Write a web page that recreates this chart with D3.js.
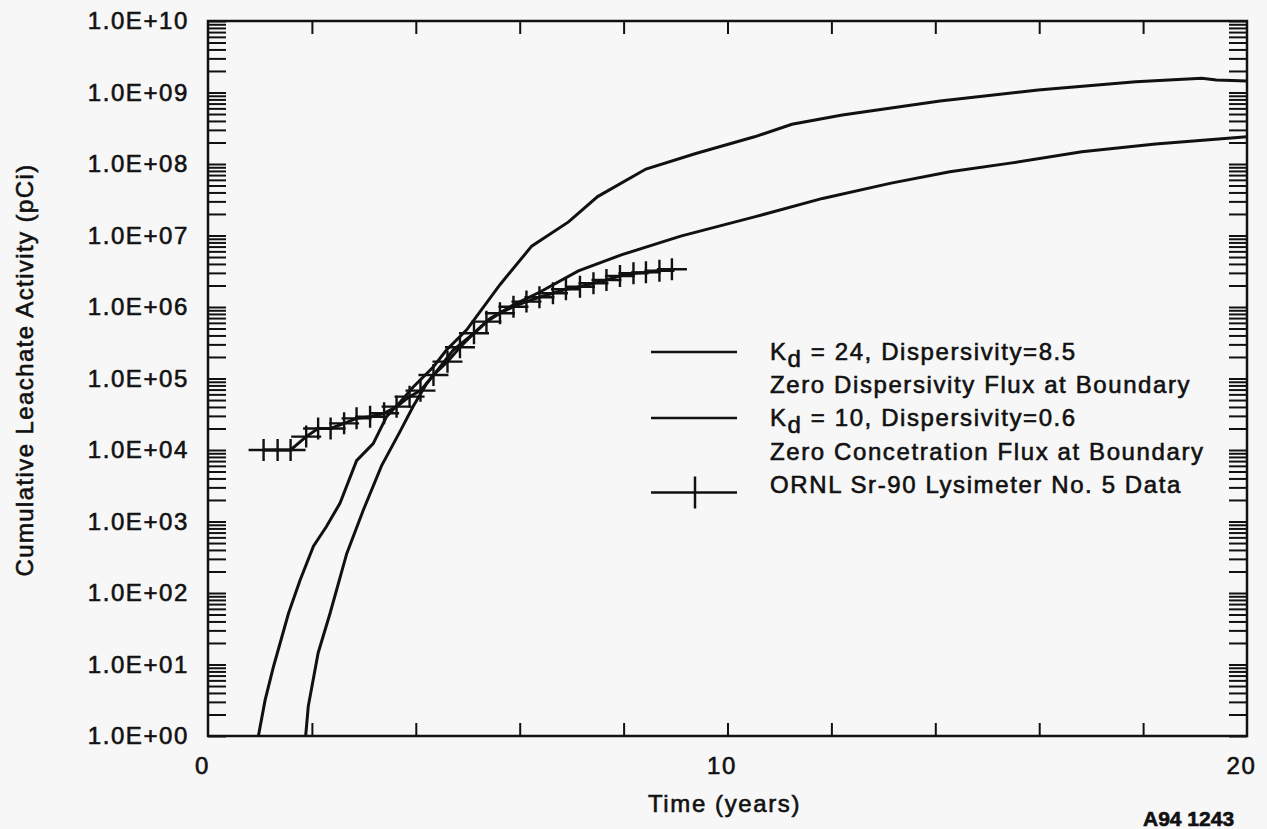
<!DOCTYPE html>
<html lang="en">
<head>
    <meta charset="UTF-8">
    <title>Cumulative Leachate Activity</title>
    <script src="https://d3js.org/d3.v7.min.js"></script>
    <style>
        body { margin: 0; background: #f7f7f7; }
        svg { display: block; }
        text {
            font-family: "Liberation Sans", Arial, Helvetica, sans-serif;
            font-size: 24px;
            letter-spacing: 1.6px;
            fill: #111;
            stroke: #111;
            stroke-width: 0.6px;
        }
        .frame, .tick line, .curve, .marker, .legend-line {
            stroke: #111;
            fill: none;
        }
        .domain { display: none; }
    </style>
</head>
<body>
    <svg width="1267" height="829"></svg>

    <script>
        const width = 1267, height = 829;
        const plotLeft = 208, plotRight = 1247, plotTop = 21, plotBottom = 736;

        // Kd = 24, Dispersivity = 8.5 (years / pCi)
        const timeA = [0.97, 1.10, 1.26, 1.55, 1.77, 2.03, 2.28, 2.54, 2.86, 3.18, 3.44, 3.70, 3.95,
                       4.34, 4.59, 4.98, 5.62, 6.23, 6.94, 7.50, 8.43, 9.39, 10.52, 11.24, 12.21,
                       14.09, 15.98, 17.86, 19.13, 19.41, 20.0];
        const activityA = [1, 3.2, 9.3, 52, 150, 450, 850, 1.8e3, 7.1e3, 1.23e4, 2.95e4, 4.7e4, 7.6e4,
                           1.46e5, 2.5e5, 4.8e5, 2.05e6, 7.1e6, 1.55e7, 3.5e7, 8.5e7, 1.4e8, 2.4e8, 3.6e8, 4.85e8,
                           7.6e8, 1.08e9, 1.41e9, 1.58e9, 1.5e9, 1.45e9];

        // Kd = 10, Dispersivity = 0.6
        const timeB = [1.88, 1.93, 2.12, 2.35, 2.67, 2.99, 3.34, 3.69, 3.95, 4.21, 4.47, 4.72, 5.11,
                       5.43, 5.88, 6.39, 7.13, 7.97, 9.10, 10.52, 11.83, 13.15, 14.28, 15.41, 16.82,
                       18.24, 20.0];
        const activityB = [1, 2.6, 14.5, 52, 355, 1.45e3, 6.0e3, 1.78e4, 4.1e4, 8.5e4, 1.46e5, 2.5e5, 4.25e5,
                           6.9e5, 1.07e6, 1.62e6, 3.2e6, 5.4e6, 9.8e6, 1.82e7, 3.3e7, 5.4e7, 7.8e7, 1.02e8, 1.48e8,
                           1.9e8, 2.4e8];

        // ORNL Sr-90 Lysimeter No. 5 measurements
        const timeData = [1.07, 1.34, 1.59, 1.89, 2.12, 2.36, 2.62, 2.86, 3.12, 3.39, 3.63, 3.88,
                          4.09, 4.34, 4.61, 4.85, 5.12, 5.36, 5.62, 5.88, 6.13, 6.38, 6.64, 6.89,
                          7.16, 7.42, 7.67, 7.93, 8.19, 8.43, 8.69, 8.93];
        const activityData = [1.0e4, 1.0e4, 1.0e4, 1.54e4, 2.0e4, 2.0e4, 2.36e4, 2.77e4, 2.92e4, 3.26e4, 4.04e4, 5.57e4,
                              6.76e4, 1.12e5, 1.72e5, 2.73e5, 4.29e5, 6.24e5, 8.17e5, 1.01e6, 1.19e6, 1.37e6, 1.56e6, 1.77e6,
                              1.92e6, 2.15e6, 2.39e6, 2.72e6, 2.96e6, 3.05e6, 3.22e6, 3.37e6];

        const xLabelTicks = [0, 10, 20];
        const xMarkTicks = [2, 4, 6, 8, 10, 12, 14, 16, 18];
        const decades = d3.range(0, 11).map(p => Math.pow(10, p));

        const legendRows = [
            ["K", "d", " = 24, Dispersivity=8.5"],
            ["Zero Dispersivity Flux at Boundary"],
            ["K", "d", " = 10, Dispersivity=0.6"],
            ["Zero Concetration Flux at Boundary"],
            ["ORNL Sr-90 Lysimeter No. 5 Data"]
        ];

        const svg = d3.select("svg");

        const x = d3.scaleLinear().domain([0, 20]).range([plotLeft, plotRight]);
        const y = d3.scaleLog().domain([1, 1e10]).range([plotBottom, plotTop]);

        // all log ticks 1..9 per decade
        const minor = [];
        decades.slice(0, 10).forEach(d => d3.range(1, 10).forEach(k => minor.push(d * k)));
        minor.push(1e10);

        svg.append("defs").append("clipPath").attr("id", "plot")
            .append("rect").attr("x", plotLeft).attr("y", plotTop)
            .attr("width", plotRight - plotLeft).attr("height", plotBottom - plotTop);

        // tick marks, pointing inward
        svg.append("g").attr("transform", `translate(${plotLeft},0)`)
            .call(d3.axisLeft(y).tickValues(minor).tickSize(-18).tickFormat(""))
            .selectAll("line").attr("stroke-width", 2);
        svg.append("g").attr("transform", `translate(${plotRight},0)`)
            .call(d3.axisRight(y).tickValues(minor).tickSize(-18).tickFormat(""))
            .selectAll("line").attr("stroke-width", 2);
        svg.append("g").attr("transform", `translate(0,${plotBottom})`)
            .call(d3.axisBottom(x).tickValues(xMarkTicks).tickSize(-13).tickFormat(""))
            .selectAll("line").attr("stroke-width", 2);
        svg.append("g").attr("transform", `translate(0,${plotTop})`)
            .call(d3.axisTop(x).tickValues(xMarkTicks).tickSize(-13).tickFormat(""))
            .selectAll("line").attr("stroke-width", 2);

        // tick labels
        const yLab = svg.append("g").attr("transform", `translate(${plotLeft},0)`)
            .call(d3.axisLeft(y).tickValues(decades).tickSize(0).tickPadding(19)
                .tickFormat(d => "1.0E+" + String(Math.round(Math.log10(d))).padStart(2, "0")));
        yLab.attr("font-size", null).attr("font-family", null);

        const xLab = svg.append("g").attr("transform", `translate(0,${plotBottom})`)
            .call(d3.axisBottom(x).tickValues(xLabelTicks).tickSize(0).tickPadding(21));
        xLab.attr("font-size", null).attr("font-family", null);
        xLab.selectAll("text").attr("dx", -6);

        svg.append("rect").attr("class", "frame")
            .attr("x", plotLeft).attr("y", plotTop)
            .attr("width", plotRight - plotLeft).attr("height", plotBottom - plotTop)
            .attr("stroke-width", 2.5);

        // curves
        const line = d3.line().x(d => x(d[0])).y(d => y(d[1]));
        const plot = svg.append("g").attr("clip-path", "url(#plot)");

        plot.append("path").attr("class", "curve")
            .attr("d", line(d3.zip(timeA, activityA)))
            .attr("stroke-width", 3);
        plot.append("path").attr("class", "curve")
            .attr("d", line(d3.zip(timeB, activityB)))
            .attr("stroke-width", 3);

        const pts = d3.zip(timeData, activityData);
        plot.append("path").attr("class", "curve")
            .attr("d", line(pts))
            .attr("stroke-width", 3);
        plot.selectAll(".marker")
            .data(pts)
            .enter().append("path")
            .attr("class", "marker")
            .attr("stroke-width", 2.4)
            .attr("d", d => {
                const cx = x(d[0]), cy = y(d[1]);
                return `M${cx - 15},${cy}H${cx + 15}M${cx},${cy - 11}V${cy + 11}`;
            });

        // axis titles
        svg.append("text")
            .attr("x", (plotLeft + plotRight) / 2 - 3).attr("y", 812)
            .attr("text-anchor", "middle")
            .text("Time (years)");
        svg.append("text")
            .attr("transform", "translate(33,370) rotate(-90)")
            .attr("text-anchor", "middle")
            .style("letter-spacing", "1.4px")
            .text("Cumulative Leachate Activity (pCi)");

        svg.append("text")
            .attr("x", 1143).attr("y", 826)
            .style("font-size", "21px").style("font-weight", "bold").style("letter-spacing", "0px")
            .text("A94 1243");

        // legend
        const legend = svg.append("g");
        const rowY = [360, 393, 426, 459.5, 492.5];
        const lineY = [352, 418, 492.5];
        legend.selectAll(".legend-line")
            .data(lineY)
            .enter().append("line")
            .attr("class", "legend-line")
            .attr("x1", 651).attr("x2", 737)
            .attr("y1", d => d).attr("y2", d => d)
            .attr("stroke-width", 2.5);
        legend.append("line").attr("class", "legend-line")
            .attr("x1", 695).attr("x2", 695)
            .attr("y1", lineY[2] - 16).attr("y2", lineY[2] + 16)
            .attr("stroke-width", 2.5);

        legendRows.forEach((row, i) => {
            const t = legend.append("text").attr("x", 770).attr("y", rowY[i]);
            if (row.length === 3) {
                t.append("tspan").text(row[0]);
                t.append("tspan").attr("dy", 7).text(row[1]);
                t.append("tspan").attr("dy", -7).text(row[2]);
            } else {
                t.text(row[0]);
            }
        });
    </script>
</body>
</html>
